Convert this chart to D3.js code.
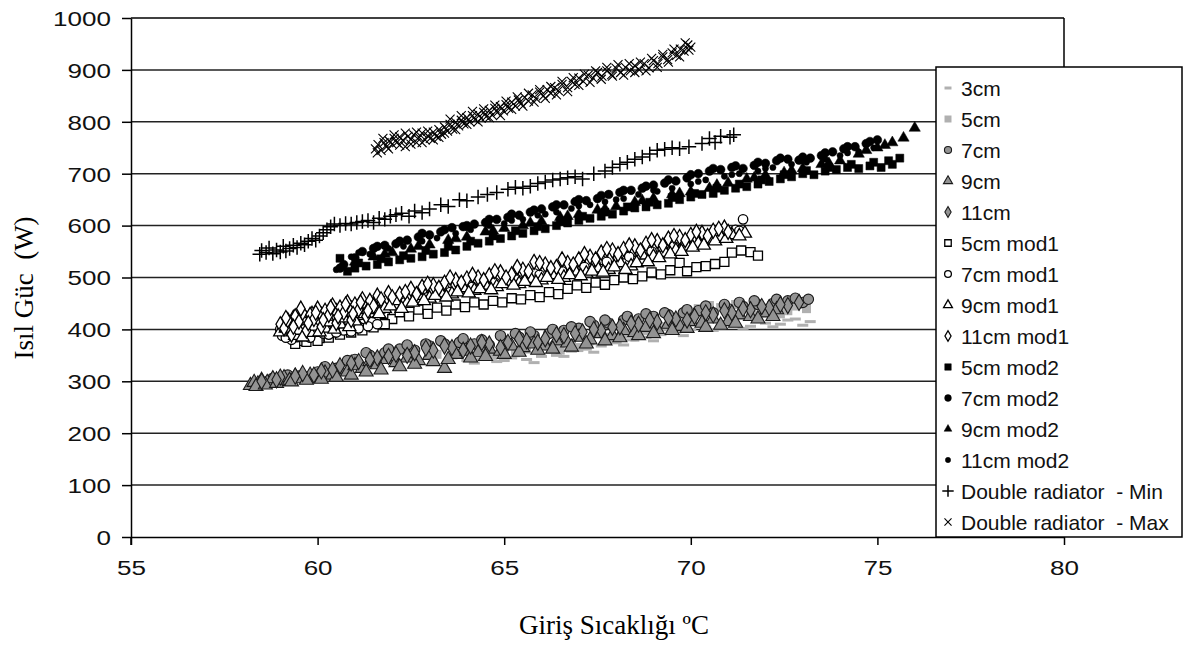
<!DOCTYPE html>
<html><head><meta charset="utf-8">
<script src="https://cdn.jsdelivr.net/npm/d3@7"></script>
<style>
body{margin:0;background:#fff}
svg{display:block}
text{white-space:pre}
</style>
</head><body>
<svg id="chart" width="1185" height="648"></svg>
<script>
// ---------------- data ----------------
const xTicks = [55, 60, 65, 70, 75, 80];
const yTicks = [0, 100, 200, 300, 400, 500, 600, 700, 800, 900, 1000];
const xTitle = "Giriş Sıcaklığı ºC";
const yTitle = "Isıl Güc  (W)";
const seriesNames = ["3cm","5cm","7cm","9cm","11cm","5cm mod1","7cm mod1","9cm mod1","11cm mod1",
  "5cm mod2","7cm mod2","9cm mod2","11cm mod2","Double radiator  - Min","Double radiator  - Max"];

const s3cm = [[63.6,345],[64.0,340],[64.4,342],[64.8,338],[65.2,345],[65.6,342],[66.0,348],[66.4,350],[66.8,358],[67.2,362],[67.6,368],[68.0,375],[68.4,380],[68.8,385],[69.2,390],[69.6,395],[70.0,400],[70.4,405],[70.8,402],[71.2,408],[71.6,406],[72.0,412],[72.4,410],[72.8,420],[73.2,415],
  [64.2,335],[65.0,340],[65.8,336],[66.6,348],[67.4,356],[68.2,370],[69.0,378],[69.8,388],[70.6,398],[71.4,402],[72.2,405],[73.0,408],[71.0,415],[72.6,418]];
const s5cm = [[63.2,352],[63.8,355],[64.4,358],[65.0,360],[65.6,362],[66.2,368],[66.8,372],[67.3,378],[67.8,385],[68.3,392],[68.8,398],[69.3,405],[69.8,415],[70.2,440],[70.5,446],[70.8,442],[71.2,448],[71.6,435],[72.0,438],[72.4,430],[72.8,445],[73.1,440],
  [64.7,350],[65.3,355],[66.5,360],[67.0,365],[68.0,380],[68.5,385],[69.0,402],[69.5,410],[70.0,420],[70.3,432],[71.0,438],[71.4,445],[71.8,428],[72.2,440],[72.6,436],[73.0,448]];
const s7cm = [[59.5,310],[60.0,318],[60.5,325],[61.0,342],[61.4,350],[61.8,355],[62.2,362],[62.6,360],[63.0,368],[63.4,372],[63.8,375],[64.2,372],[64.6,370],[65.0,378],[65.4,385],[65.8,388],[66.2,392],[66.6,398],[67.0,402],[67.4,408],[67.8,412],[68.2,418],[68.6,420],[69.0,425],[69.4,428],[69.8,432],[70.2,436],[70.6,432],[71.0,440],[71.4,444],[71.8,448],[72.2,450],[72.6,455],[73.0,452],[73.15,458],
  [60.2,328],[60.8,340],[61.3,355],[61.9,362],[62.4,370],[62.9,372],[63.3,378],[63.9,382],[64.4,380],[64.9,388],[65.3,392],[65.7,395],[66.3,400],[66.8,405],[67.3,415],[67.7,418],[68.3,425],[68.8,430],[69.3,432],[69.9,438],[70.4,445],[70.9,448],[71.3,452],[71.7,455],[72.3,458],[72.8,460],[59.2,312],[58.8,306]];
const s9cm = [[58.2,292],[58.3,298],[58.4,295],[58.5,302],[58.65,298],[58.8,305],[58.95,300],[59.1,307],[59.25,302],[59.4,310],[59.6,305],[59.8,312],[60.0,308],[60.2,316],[60.4,312],[60.6,322],[60.8,318],[61.0,330],[61.2,325],[61.4,338],[61.6,332],[61.85,342],[62.1,336],[62.4,345],[62.7,340],[63.0,350],[63.4,325],[63.7,352],[64.0,358],[64.3,355],[64.6,362],[64.9,358],[65.2,368],[65.5,365],[65.8,372],[66.1,368],[66.4,378],[66.7,374],[67.0,385],[67.3,380],[67.6,392],[67.9,388],[68.2,398],[68.5,394],[68.8,404],[69.1,400],[69.4,410],[69.7,406],[70.0,415],[70.3,412],[70.6,420],[71.0,415],[71.3,428],[71.6,425],[72.0,432],[72.3,438],
  [58.35,290],[58.6,293],[58.9,296],[59.3,299],[59.7,302],[60.1,304],[60.5,308],[60.9,312],[61.3,318],[61.7,322],[62.2,328],[62.6,333],[63.1,338],[63.5,342],[64.1,345],[64.5,348],[65.0,352],[65.4,356],[65.9,360],[66.3,362],[66.8,366],[67.2,372],[67.7,378],[68.1,384],[68.6,388],[69.0,392],[69.5,398],[69.9,402],[70.4,404],[70.8,408],[71.2,412],[71.8,420],[72.2,425]];
const s11cm = [[58.5,300],[59.0,308],[59.6,315],[60.1,320],[60.6,330],[61.1,338],[61.6,345],[62.1,352],[62.6,355],[63.1,360],[63.6,365],[64.1,368],[64.6,372],[65.1,375],[65.6,378],[66.1,382],[66.6,388],[67.1,395],[67.6,398],[68.1,405],[68.6,410],[69.1,414],[69.6,420],[70.1,425],[70.6,428],[71.1,432],[71.6,438],[72.1,442],[72.6,446],
  [58.9,303],[59.4,310],[59.9,312],[60.4,322],[60.9,335],[61.4,342],[61.9,348],[62.4,350],[62.9,364],[63.4,368],[63.9,360],[64.4,375],[64.9,365],[65.4,382],[65.9,375],[66.4,390],[66.9,392],[67.4,400],[67.9,404],[68.4,412],[68.9,418],[69.4,422],[69.9,418],[70.4,432],[70.9,436],[71.4,440],[71.9,444],[72.4,448],[72.9,452]];

const s5cmMod1 = [[59.35,395],[59.5,378],[59.6,410],[59.75,386],[59.9,400],[60.05,383],[60.2,412],[60.35,395],[60.5,405],[60.7,418],[60.85,400],[61.0,422],[61.2,408],[61.4,426],[61.6,415],[61.8,430],[62.0,420],[62.2,433],[62.45,425],[62.7,438],[62.95,430],[63.2,442],[63.45,436],[63.7,448],[63.95,443],[64.2,452],[64.45,448],[64.7,455],[64.95,452],[65.2,460],[65.45,458],[65.7,466],[65.95,462],[66.2,472],[66.45,468],[66.7,478],[66.95,485],[67.2,480],[67.45,490],[67.7,486],[67.95,495],[68.2,500],[68.45,497],[68.7,502],[68.95,510],[69.2,506],[69.45,514],[69.7,528],[69.9,512],[70.15,520],[70.4,522],[70.65,526],[70.9,530],[71.1,548],[71.35,552],[71.6,549],[71.8,542],
  [59.4,372],[59.7,376],[60.0,378],[60.3,384],[60.6,390],[60.9,394],[61.2,398],[61.5,404],[61.8,410]];
const s7cmMod1 = [[59.0,400],[59.05,388],[59.2,408],[59.25,396],[59.4,404],[59.45,385],[59.6,418],[59.65,400],[59.8,412],[59.85,392],[60.0,425],[60.05,406],[60.2,420],[60.25,398],[60.4,432],[60.45,410],[60.6,428],[60.65,402],[60.8,440],[60.85,415],[61.0,436],[61.05,408],[61.25,420],[61.3,445],[61.45,414],[61.6,452],[61.9,458],[62.2,462],[62.5,466],[62.8,470],[63.1,476],[63.4,478],[63.7,484],[64.0,488],[64.3,492],[64.6,494],[64.9,498],[65.2,500],[65.5,504],[65.8,508],[66.1,512],[66.4,516],[66.7,520],[67.0,524],[67.3,530],[67.6,534],[67.9,540],[68.2,545],[68.5,550],[68.8,556],[69.1,560],[69.4,566],[69.7,570],[70.0,574],[70.3,578],[70.6,582],[70.9,588],[71.2,592],[71.4,612],
  [59.1,415],[59.3,380],[59.55,425],[59.75,392],[59.95,415],[60.15,392],[60.35,420],[60.55,398],[60.75,430],[60.95,404],[61.15,428],[61.4,432],[61.75,440],[62.05,448],[62.35,452],[62.65,458],[62.95,462],[63.25,468],[63.55,472],[63.85,478],[64.15,482],[64.45,486],[64.75,490],[65.05,492],[65.35,496],[65.65,500],[65.95,505],[66.25,508],[66.55,512],[66.85,516],[67.15,520],[67.45,526],[67.75,530],[68.05,535],[68.35,540],[68.65,545],[68.95,550],[69.25,555],[69.55,560],[69.85,565],[70.15,570],[70.45,574],[70.75,580],[71.05,585],[71.3,590],
  [59.15,384],[59.35,392],[59.55,388],[59.8,384],[60.1,396],[60.3,390],[60.5,394],[60.7,398],[60.9,396],[61.1,402],[61.35,406],[61.6,410]];
const s9cmMod1 = [[59.0,395],[59.3,412],[59.4,388],[59.5,398],[59.7,420],[59.8,394],[59.9,406],[60.1,428],[60.2,402],[60.3,414],[60.5,435],[60.6,410],[60.7,422],[60.9,440],[61.0,416],[61.2,430],[61.5,448],[61.8,440],[62.1,455],[62.4,450],[62.7,465],[63.0,460],[63.3,470],[63.6,468],[63.9,480],[64.2,475],[64.5,485],[64.8,482],[65.1,492],[65.4,488],[65.7,498],[66.0,495],[66.3,505],[66.6,500],[66.9,512],[67.2,508],[67.5,518],[67.8,515],[68.1,528],[68.4,522],[68.7,543],[69.0,540],[69.3,548],[69.6,552],[69.9,560],[70.2,565],[70.5,572],[70.8,578],[71.1,582],[71.45,585],
  [59.15,402],[59.35,422],[59.6,385],[59.85,430],[60.05,395],[60.25,425],[60.45,400],[60.65,432],[60.85,405],[61.05,440],[61.35,438],[61.65,430],[61.95,445],[62.25,440],[62.55,452],[62.85,455],[63.15,465],[63.45,462],[63.75,472],[64.05,470],[64.35,478],[64.65,476],[64.95,488],[65.25,485],[65.55,492],[65.85,490],[66.15,500],[66.45,496],[66.75,505],[67.05,503],[67.35,512],[67.65,510],[67.95,520],[68.25,515],[68.55,528],[68.85,530],[69.15,538],[69.45,545],[69.75,550],[70.05,558],[70.35,562],[70.65,570],[70.95,575],[71.3,580]];
const s11cmMod1 = [[59.0,410],[59.1,402],[59.2,418],[59.3,390],[59.4,425],[59.5,415],[59.6,432],[59.7,398],[59.8,428],[59.9,420],[60.0,440],[60.1,405],[60.2,436],[60.3,428],[60.4,446],[60.5,412],[60.6,442],[60.7,432],[60.8,452],[60.9,418],[61.0,448],[61.1,438],[61.2,458],[61.3,425],[61.4,455],[61.5,445],[61.6,465],[61.9,470],[62.2,468],[62.5,478],[62.8,482],[63.1,485],[63.4,490],[63.7,495],[64.0,498],[64.3,500],[64.6,504],[64.9,510],[65.2,506],[65.5,515],[65.8,530],[66.1,525],[66.4,520],[66.7,528],[67.0,535],[67.3,540],[67.6,548],[67.9,552],[68.2,555],[68.5,560],[68.8,565],[69.1,570],[69.4,575],[69.7,578],[70.0,582],[70.3,586],[70.6,590],[70.9,596],
  [59.15,422],[59.35,405],[59.55,440],[59.75,412],[59.95,432],[60.15,418],[60.35,442],[60.55,425],[60.75,448],[60.95,430],[61.15,452],[61.35,436],[61.7,458],[62.0,462],[62.35,472],[62.65,468],[62.95,488],[63.25,480],[63.55,500],[63.85,490],[64.15,505],[64.45,495],[64.75,512],[65.05,500],[65.35,520],[65.65,512],[65.95,528],[66.25,518],[66.55,535],[66.85,525],[67.15,545],[67.45,535],[67.75,555],[68.05,545],[68.35,562],[68.65,552],[68.95,572],[69.25,562],[69.55,580],[69.85,572],[70.15,588],[70.45,580],[70.75,594],[71.0,588]];

const s5cmMod2 = [[60.6,537],[60.8,512],[61.0,518],[61.3,522],[61.6,525],[61.9,530],[62.2,534],[62.5,537],[62.8,540],[63.1,545],[63.4,548],[63.7,553],[64.0,560],[64.3,566],[64.6,570],[64.9,575],[65.2,580],[65.5,585],[65.8,590],[66.1,594],[66.4,600],[66.7,605],[67.0,610],[67.3,614],[67.6,618],[67.9,622],[68.2,628],[68.5,634],[68.8,636],[69.1,640],[69.4,643],[69.7,650],[70.0,655],[70.3,660],[70.6,662],[70.9,668],[71.2,672],[71.5,675],[71.8,680],[72.1,685],[72.4,690],[72.7,694],[73.0,700],[73.3,698],[73.6,705],[73.9,708],[74.2,712],[74.5,710],[74.8,715],[75.1,712],[75.4,718],[75.6,730],
  [61.1,528],[61.7,536],[62.3,542],[62.9,552],[63.5,560],[64.1,570],[64.7,580],[65.3,590],[65.9,598],[66.5,608],[67.1,618],[67.7,626],[68.3,636],[68.9,645],[69.5,654],[70.1,662],[70.7,672],[71.3,680],[71.9,688],[72.5,698],[73.1,706],[73.7,712],[74.3,718],[74.9,722],[75.3,725]];
const s7cmMod2 = [[60.6,518],[60.7,525],[61.2,550],[61.5,556],[61.8,562],[62.1,565],[62.4,572],[62.7,578],[63.0,582],[63.3,588],[63.6,596],[63.9,598],[64.2,603],[64.5,606],[64.8,612],[65.1,616],[65.4,620],[65.7,626],[66.0,632],[66.3,636],[66.6,640],[66.9,646],[67.2,648],[67.5,652],[67.8,660],[68.1,664],[68.4,668],[68.7,672],[69.0,678],[69.3,682],[69.6,686],[69.9,692],[70.2,700],[70.5,705],[70.8,708],[71.1,712],[71.4,710],[71.7,716],[72.0,720],[72.3,725],[72.6,728],[72.9,726],[73.2,730],[73.5,735],[73.8,742],[74.1,748],[74.4,752],[74.7,758],[75.0,765],
  [61.0,538],[61.6,560],[62.2,570],[62.8,585],[63.4,592],[64.0,600],[64.6,612],[65.2,622],[65.8,630],[66.4,640],[67.0,650],[67.6,658],[68.2,668],[68.8,676],[69.4,688],[70.0,698],[70.6,710],[71.2,715],[71.8,722],[72.4,730],[73.0,732],[73.6,740],[74.2,752],[74.8,762]];
const s9cmMod2 = [[61.0,530],[61.5,540],[62.0,548],[62.5,555],[63.0,563],[63.5,572],[64.0,578],[64.5,588],[65.0,595],[65.5,600],[66.0,608],[66.5,616],[67.0,622],[67.5,630],[68.0,637],[68.5,645],[69.0,652],[69.5,660],[70.0,665],[70.5,672],[71.0,682],[71.5,690],[72.0,697],[72.5,702],[73.0,710],[73.5,718],[74.0,725],[74.5,738],[75.0,750],[75.4,760],[75.7,769],[76.0,788],
  [61.8,545],[62.7,560],[63.7,575],[64.7,590],[65.7,605],[66.7,618],[67.7,632],[68.7,648],[69.7,662],[70.7,678],[71.7,692],[72.7,706],[73.7,720],[74.7,745],[75.2,755]];
const s11cmMod2 = [[60.5,515],[60.9,540],[61.4,545],[61.9,556],[62.3,560],[62.8,570],[63.2,576],[63.7,585],[64.1,592],[64.6,600],[65.0,604],[65.5,612],[65.9,620],[66.4,626],[66.8,633],[67.3,640],[67.7,646],[68.2,652],[68.6,660],[69.1,666],[69.5,672],[70.0,680],[70.4,688],[70.9,695],[71.3,700],[71.8,705],[72.2,712],[72.7,718],[73.1,722],[73.6,728],[74.0,735],[74.5,742],[74.9,750],
  [61.1,548],[62.1,566],[63.0,580],[64.0,596],[65.2,610],[66.1,622],[67.0,638],[68.0,650],[69.0,668],[70.2,685],[71.1,698],[72.0,710],[73.0,725],[74.2,740]];

const sDoubleMin = [[58.45,545],[58.5,552],[58.62,548],[58.7,557],[58.8,546],[58.9,553],[59.0,549],[59.08,560],[59.15,551],[59.25,556],[59.35,562],[59.45,558],[59.55,566],[59.65,563],[59.75,570],[59.85,575],[59.95,572],[60.05,580],[60.15,586],[60.25,592],[60.35,598],[60.45,603],[60.6,600],[60.75,604],[60.9,603],[61.05,606],[61.2,608],[61.35,610],[61.5,606],[61.65,614],[61.8,612],[61.95,618],[62.1,621],[62.25,624],[62.45,618],[62.6,628],[62.8,625],[63.0,632],[63.3,640],[63.5,637],[63.8,650],[64.0,648],[64.3,655],[64.55,660],[64.8,664],[65.1,670],[65.3,674],[65.5,672],[65.7,676],[65.9,681],[66.1,684],[66.3,688],[66.5,690],[66.7,692],[66.9,694],[67.1,690],[67.4,700],[67.7,705],[67.9,712],[68.1,718],[68.3,722],[68.5,728],[68.7,732],[68.9,738],[69.1,745],[69.3,747],[69.5,750],[69.7,748],[69.95,752],[70.3,758],[70.5,768],[70.65,760],[70.8,772],[71.05,770],[71.15,775]];
const sDoubleMax = [[61.55,748],[61.62,756],[61.7,745],[61.78,760],[61.85,752],[61.92,763],[62.0,757],[62.05,768],[62.12,760],[62.2,771],[62.28,764],[62.35,752],[62.42,772],[62.5,766],[62.58,775],[62.65,760],[62.72,770],[62.8,778],[62.88,765],[62.95,773],[63.02,768],[63.1,780],[63.18,772],[63.25,785],[63.32,776],[63.4,790],[63.48,782],[63.55,795],[63.62,786],[63.7,799],[63.78,792],[63.85,803],[63.92,796],[64.0,808],[64.08,800],[64.15,812],[64.22,804],[64.3,815],[64.38,807],[64.45,818],[64.52,810],[64.6,822],[64.68,813],[64.75,826],[64.82,818],[64.9,829],[64.98,821],[65.05,833],[65.12,826],[65.2,838],[65.3,830],[65.38,842],[65.45,835],[65.55,847],[65.65,840],[65.75,852],[65.85,845],[65.95,857],[66.05,850],[66.15,862],[66.25,855],[66.35,866],[66.45,860],[66.55,872],[66.7,866],[66.8,878],[66.9,872],[67.0,884],[67.12,878],[67.25,890],[67.38,884],[67.5,895],[67.62,888],[67.75,898],[67.88,891],[68.0,903],[68.12,895],[68.25,905],[68.38,898],[68.5,908],[68.62,900],[68.75,912],[68.88,904],[69.0,918],[69.12,912],[69.25,925],[69.38,920],[69.5,933],[69.62,928],[69.72,940],[69.82,936],[69.92,948],[70.0,944],
  [61.6,740],[61.75,768],[61.9,748],[62.05,775],[62.2,755],[62.35,778],[62.5,757],[62.65,780],[62.8,760],[62.95,782],[63.1,765],[63.25,770],[63.4,778],[63.55,805],[63.7,785],[63.85,812],[64.0,795],[64.15,820],[64.3,800],[64.45,825],[64.6,808],[64.75,832],[64.9,812],[65.05,840],[65.2,824],[65.35,848],[65.5,830],[65.65,855],[65.8,838],[65.95,862],[66.1,845],[66.25,868],[66.4,852],[66.55,878],[66.7,858],[66.85,885],[67.0,870],[67.15,892],[67.3,876],[67.45,898],[67.6,882],[67.75,905],[67.9,888],[68.05,910],[68.2,890],[68.35,912],[68.5,895],[68.65,915],[68.8,898],[68.95,922],[69.1,905],[69.25,930],[69.4,915],[69.55,940],[69.7,925],[69.85,952],[69.95,938]];

const seriesData = [s3cm, s5cm, s7cm, s9cm, s11cm, s5cmMod1, s7cmMod1, s9cmMod1, s11cmMod1,
  s5cmMod2, s7cmMod2, s9cmMod2, s11cmMod2, sDoubleMin, sDoubleMax];

// ---------------- drawing ----------------
const svg = d3.select("#chart");
const x = d3.scaleLinear().domain([55, 80]).range([131, 1064]);
const y = d3.scaleLinear().domain([0, 1000]).range([537, 18]);

const symPlus = {draw(ctx, size){const r = Math.sqrt(size)/2; ctx.moveTo(-r,0); ctx.lineTo(r,0); ctx.moveTo(0,-r); ctx.lineTo(0,r);}};
const symTimes = {draw(ctx, size){const r = Math.sqrt(size)/2; ctx.moveTo(-r,-r); ctx.lineTo(r,r); ctx.moveTo(r,-r); ctx.lineTo(-r,r);}};
const symDash = {draw(ctx, size){const w = Math.sqrt(size); ctx.rect(-w/2, -1.5, w, 3);}};

const grey = "#939393", light = "#b0b0b0", dark = "#1a1a1a";
const styles = [
  {type: symDash, size: 121, fill: light, stroke: "none", sw: 0, leg: 49},
  {type: d3.symbolSquare, size: 81, fill: light, stroke: "none", sw: 0, leg: 49},
  {type: d3.symbolCircle, size: 85, fill: grey, stroke: dark, sw: 1.1, leg: 40},
  {type: d3.symbolTriangle, size: 85, fill: grey, stroke: dark, sw: 1.1, leg: 36},
  {type: d3.symbolDiamond, size: 75, fill: grey, stroke: dark, sw: 1.1, leg: 34},
  {type: d3.symbolSquare, size: 81, fill: "#fff", stroke: "#000", sw: 1.3, leg: 42},
  {type: d3.symbolCircle, size: 70, fill: "#fff", stroke: "#000", sw: 1.3, leg: 36},
  {type: d3.symbolTriangle, size: 75, fill: "#fff", stroke: "#000", sw: 1.3, leg: 34},
  {type: d3.symbolDiamond, size: 65, fill: "#fff", stroke: "#000", sw: 1.3, leg: 32},
  {type: d3.symbolSquare, size: 64, fill: "#000", stroke: "#000", sw: 0.5, leg: 42},
  {type: d3.symbolCircle, size: 60, fill: "#000", stroke: "#000", sw: 0.5, leg: 36},
  {type: d3.symbolTriangle, size: 55, fill: "#000", stroke: "#000", sw: 0.5, leg: 26},
  {type: d3.symbolCircle, size: 30, fill: "#000", stroke: "#000", sw: 0.5, leg: 22},
  {type: symPlus, size: 210, fill: "none", stroke: "#000", sw: 1.5, leg: 130},
  {type: symTimes, size: 81, fill: "none", stroke: "#000", sw: 1.1, leg: 50}
];

// gridlines
svg.append("g").selectAll("line").data(yTicks.filter(v => v > 0 && v < 1000)).join("line")
  .attr("x1", x(55)).attr("x2", x(80)).attr("y1", d => y(d)).attr("y2", d => y(d))
  .attr("stroke", "#222").attr("stroke-width", 1.5);

// frame (top and right)
svg.append("line").attr("x1", x(55)).attr("x2", x(80)).attr("y1", y(1000)).attr("y2", y(1000))
  .attr("stroke", "#000").attr("stroke-width", 1.5);
svg.append("line").attr("x1", x(80)).attr("x2", x(80)).attr("y1", y(1000)).attr("y2", y(0))
  .attr("stroke", "#000").attr("stroke-width", 1.5);

// series
seriesData.forEach((data, i) => {
  const st = styles[i];
  const sym = d3.symbol().type(st.type).size(st.size);
  svg.append("g").selectAll("path").data(data).join("path")
    .attr("transform", d => `translate(${x(d[0])},${y(d[1])})`)
    .attr("d", sym)
    .attr("fill", st.fill).attr("stroke", st.stroke).attr("stroke-width", st.sw);
});

// axes
const yAxis = svg.append("g").attr("transform", `translate(${x(55)},0)`)
  .call(d3.axisLeft(y).tickValues(yTicks).tickFormat(d3.format("d")).tickSize(9).tickSizeOuter(0));
const xAxis = svg.append("g").attr("transform", `translate(0,${y(0)})`)
  .call(d3.axisBottom(x).tickValues(xTicks).tickFormat(d3.format("d")).tickSize(8).tickSizeOuter(0));
[yAxis, xAxis].forEach(g => {
  g.select(".domain").attr("stroke", "#000").attr("stroke-width", 1.5);
  g.selectAll(".tick line").attr("stroke", "#000").attr("stroke-width", 1.5);
  g.selectAll("text").attr("font-family", "Liberation Sans, Arial, sans-serif")
    .attr("font-size", 21).attr("fill", "#111");
});
yAxis.selectAll(".tick text").attr("x", 0).attr("dy", "0.35em").attr("text-anchor", "end")
  .attr("transform", "translate(-20,0) scale(1.24,1)");
xAxis.selectAll(".tick text").attr("y", 0).attr("dy", 0).attr("text-anchor", "middle")
  .attr("transform", "translate(0,38) scale(1.24,1)");
// extend the y axis below the x axis (Excel style)
svg.append("line").attr("x1", x(55)).attr("x2", x(55)).attr("y1", y(0)).attr("y2", y(0) + 8)
  .attr("stroke", "#000").attr("stroke-width", 1.5);

// titles
svg.append("text").text(xTitle).attr("x", 614).attr("y", 634)
  .attr("text-anchor", "middle").attr("font-family", "Liberation Serif, Times New Roman, serif")
  .attr("font-size", 27).attr("fill", "#000");
svg.append("text").text(yTitle).attr("transform", "translate(33,288) rotate(-90)")
  .attr("text-anchor", "middle").attr("font-family", "Liberation Serif, Times New Roman, serif")
  .attr("font-size", 27).attr("fill", "#000");

// legend
const lg = svg.append("g");
lg.append("rect").attr("x", 936).attr("y", 67).attr("width", 246).attr("height", 470)
  .attr("fill", "#fff").attr("stroke", "#000").attr("stroke-width", 1.5);
seriesNames.forEach((name, i) => {
  const st = styles[i];
  const cy = 88 + i * 31;
  lg.append("path").attr("transform", `translate(948,${cy})`)
    .attr("d", d3.symbol().type(st.type).size(st.leg))
    .attr("fill", st.fill).attr("stroke", st.stroke).attr("stroke-width", st.sw);
  lg.append("text").text(name).attr("x", 961).attr("y", cy).attr("dy", "0.36em")
    .attr("font-family", "Liberation Sans, Arial, sans-serif").attr("font-size", 21).attr("fill", "#111");
});
</script>
</body></html>
